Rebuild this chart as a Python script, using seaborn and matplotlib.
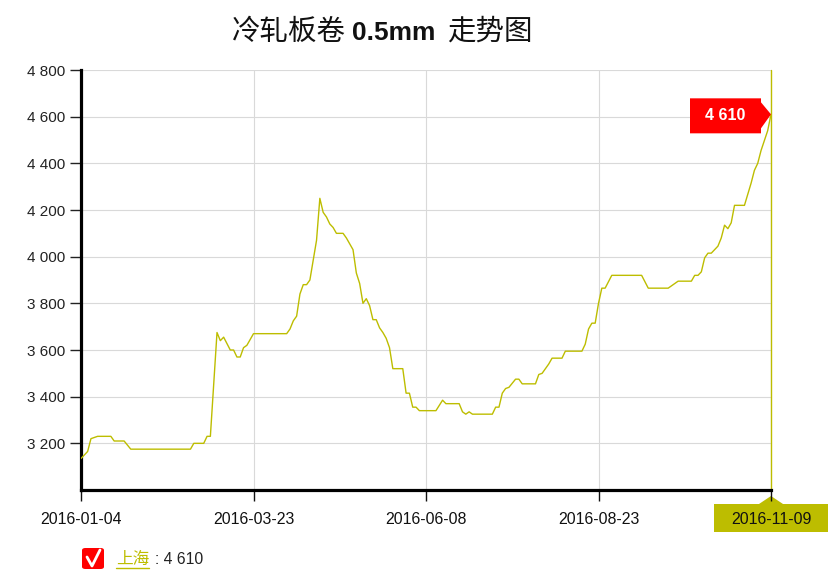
import numpy as np
import pandas as pd
import seaborn as sns
import matplotlib
matplotlib.use("Agg")
import matplotlib.pyplot as plt
from matplotlib.patches import Polygon, FancyBboxPatch
from matplotlib.transforms import IdentityTransform
from matplotlib.lines import Line2D

# dados (indice do dia de negociacao, preco)
day_idx = [0, 2, 3, 5, 9, 10, 13, 15, 33, 34, 37, 38, 39, 41, 42, 43, 45, 46, 47, 48,
           49, 50, 52, 62, 63, 64, 65, 66, 67, 68, 69, 71, 72, 73, 74, 75, 76, 77, 79, 80,
           81, 82, 83, 84, 85, 86, 87, 88, 89, 90, 91, 92, 93, 94, 97, 98, 99, 100, 101, 102,
           107, 109, 110, 114, 115, 116, 117, 118, 124, 125, 126, 127, 128, 129, 131, 132, 133, 137, 138, 139,
           141, 142, 145, 146, 151, 152, 153, 154, 155, 156, 157, 158, 160, 169, 171, 177, 180, 184, 185, 186,
           187, 188, 189, 190, 192, 193, 194, 195, 196, 197, 200, 202, 203, 204, 205, 207, 208]
price = [3135, 3165, 3220, 3230, 3230, 3210, 3210, 3175, 3175, 3200, 3200, 3230, 3230, 3675, 3640, 3655, 3600, 3600, 3570, 3570,
         3610, 3620, 3670, 3670, 3690, 3725, 3745, 3840, 3880, 3880, 3900, 4070, 4250, 4190, 4170, 4140, 4125, 4100, 4100, 4080,
         4055, 4030, 3930, 3885, 3800, 3820, 3790, 3730, 3730, 3695, 3675, 3650, 3610, 3520, 3520, 3415, 3415, 3355, 3355, 3340,
         3340, 3385, 3370, 3370, 3335, 3325, 3335, 3325, 3325, 3355, 3355, 3415, 3435, 3440, 3475, 3475, 3455, 3455, 3495, 3500,
         3540, 3565, 3565, 3595, 3595, 3625, 3690, 3715, 3715, 3800, 3865, 3865, 3920, 3920, 3865, 3865, 3895, 3895, 3920, 3920,
         3935, 3995, 4015, 4015, 4045, 4080, 4135, 4120, 4145, 4220, 4220, 4315, 4370, 4400, 4455, 4540, 4610]

tick_idx = [0, 52, 104, 156, 208]
tick_labels = ["2016-01-04", "2016-03-23", "2016-06-08", "2016-08-23", "2016-11-09"]
y_ticks = [3200, 3400, 3600, 3800, 4000, 4200, 4400, 4600, 4800]

titulo = ["冷轧板卷", "0.5mm", "走势图"]
serie = "上海"
ultimo = price[-1]

OLIVE = "#bdbd00"
RED = "#ff0000"

df = pd.DataFrame({"idx": day_idx, "price": price})

sns.set_theme(style="white")
plt.rcParams["font.family"] = ["Liberation Sans", "Noto Sans CJK SC", "DejaVu Sans"]

W, H = 839, 575
fig = plt.figure(figsize=(W / 100, H / 100), dpi=100)
ax = fig.add_axes([81 / W, 1 - 490 / H, 690 / W, 420 / H])

sns.lineplot(data=df, x="idx", y="price", ax=ax, color=OLIVE, lw=1.0, zorder=3)

ax.set_xlim(0, 208)
ax.set_ylim(3000, 4800)
ax.set_xticks(tick_idx)
ax.set_xticklabels(tick_labels)
ax.set_yticks(y_ticks)
ax.set_yticklabels([f"{v:,}".replace(",", " ") for v in y_ticks])
ax.set_xlabel("")
ax.set_ylabel("")

ax.grid(True, color="#d9d9d9", lw=0.8)
ax.set_axisbelow(True)
for s in ["top", "right"]:
    ax.spines[s].set_visible(False)
for s in ["left", "bottom"]:
    ax.spines[s].set_color("black")
    ax.spines[s].set_linewidth(2.3)
ax.tick_params(axis="y", length=8, width=1, pad=3, labelsize=11, colors="#222222", left=True)
ax.tick_params(axis="x", length=8, width=1, pad=8, labelsize=11.4, colors="#111111", bottom=True)

# linha vertical no ultimo ponto
ax.axvline(208, color=OLIVE, lw=1.0, clip_on=False, zorder=2)

# caixa vermelha com o ultimo valor
px, py = ax.transData.transform((day_idx[-1], ultimo))
L, R, T, B = px - 81, px - 10, py + 16, py - 19
etiqueta = Polygon([(L, B), (L, T), (R, T), (R, py + 12), (px, py), (R, py - 14), (R, B)],
                   closed=True, facecolor=RED, edgecolor="none",
                   transform=IdentityTransform(), clip_on=False, zorder=5)
ax.add_patch(etiqueta)
fig.text((L + R) / 2 / W, (py - 1.5) / H, f"{ultimo:,}".replace(",", " "), color="white",
         fontsize=11.5, fontweight="bold", ha="center", va="center")

# caixa oliva no ultimo rotulo do eixo x (por baixo do rotulo)
bx, by = ax.transData.transform((208, 3000))
caixa = Polygon([(bx - 57, by - 42), (bx - 57, by - 14), (bx - 12, by - 14), (bx, by - 6),
                 (bx + 12, by - 14), (bx + 57, by - 14), (bx + 57, by - 42)],
                closed=True, facecolor=OLIVE, edgecolor="none",
                transform=IdentityTransform(), clip_on=False, zorder=0.1)
ax.add_patch(caixa)
ax.set_xlim(0, 208)
ax.set_ylim(3000, 4800)

# titulo com pesos diferentes
base = 1 - 40 / H
fig.text(232 / W, base, titulo[0], fontsize=20.5, family="Noto Sans CJK SC",
         ha="left", va="baseline", color="#111111")
fig.text(352 / W, base, titulo[1], fontsize=19, family="Liberation Sans", fontweight="bold",
         ha="left", va="baseline", color="#111111")
fig.text(447 / W, base, titulo[2], fontsize=20.5, family="Noto Sans CJK SC",
         ha="left", va="baseline", color="#111111")

# legenda
chk = FancyBboxPatch((82 / W, 1 - 569 / H), 22 / W, 21 / H,
                     boxstyle="round,pad=0,rounding_size=0.004",
                     transform=fig.transFigure, facecolor=RED, edgecolor="none")
fig.add_artist(chk)
fig.add_artist(Line2D([87 / W, 92 / W, 100 / W], [1 - 557 / H, 1 - 566 / H, 1 - 550 / H],
                      transform=fig.transFigure, color="white", lw=2.0))
ts = fig.text(116 / W, 1 - 559 / H, serie, fontsize=12, family="Noto Sans CJK SC",
              color=OLIVE, ha="left", va="center")
fig.canvas.draw()
bbs = ts.get_window_extent(fig.canvas.get_renderer())
fig.add_artist(Line2D([bbs.x0 / W, bbs.x1 / W], [1 - 568 / H, 1 - 568 / H],
                      transform=fig.transFigure, color=OLIVE, lw=1.0))
fig.text(bbs.x1 / W + 6 / W, 1 - 559 / H, ": " + f"{ultimo:,}".replace(",", " "),
         fontsize=11.3, color="#222222", ha="left", va="center")

fig.savefig("out.png", dpi=100)
